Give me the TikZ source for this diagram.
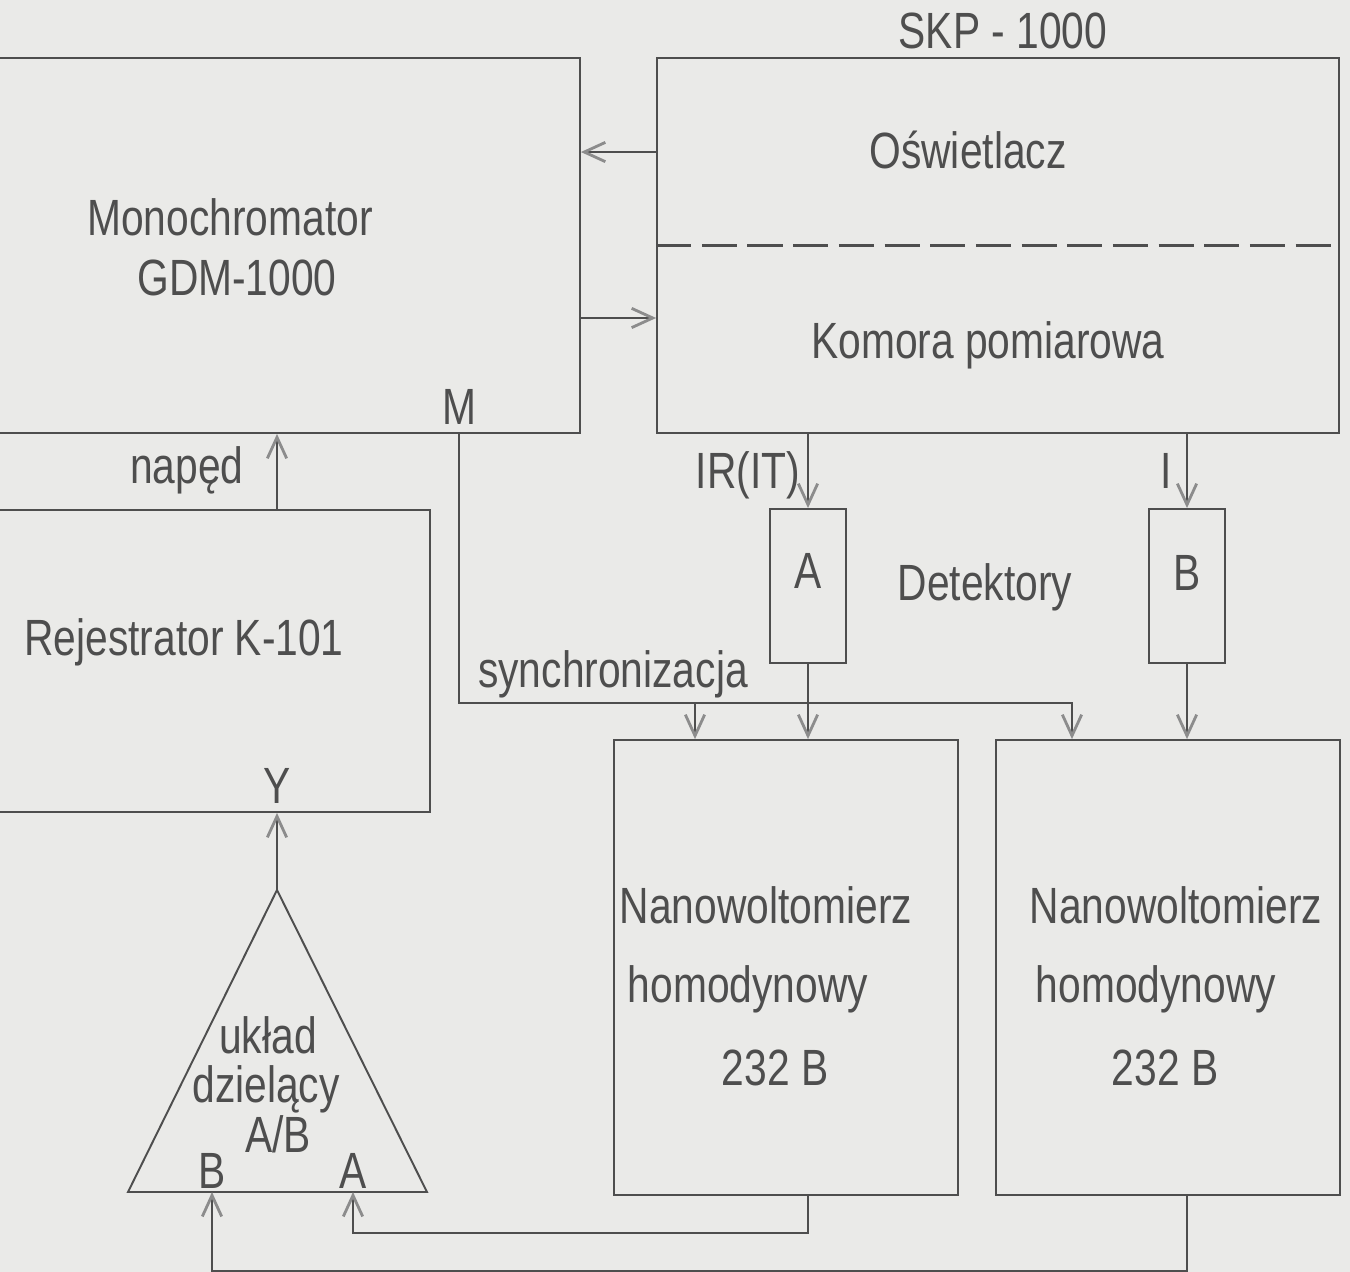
\documentclass[tikz,border=0pt]{standalone}
\usepackage{fontspec}
\newfontfamily\szablon{Liberation Sans}[FakeStretch=0.8]
\usetikzlibrary{arrows.meta}

\definecolor{papier}{RGB}{234,234,232}
\definecolor{tusz}{RGB}{78,78,78}
\definecolor{grot}{RGB}{140,140,140}

\tikzset{
	blok/.style={draw=tusz, line width=1.1pt, rectangle, inner sep=0pt},
	linia/.style={draw=tusz, line width=1.1pt},
	strz/.style={linia, -{Straight Barb[length=12pt,width=11pt,line width=1.6pt,color=grot]}},
	napis/.style={anchor=base, inner sep=0pt, text=tusz, font={\szablon\fontsize{29}{34}\selectfont}}
}

\begin{document}
\begin{tikzpicture}[x=0.02cm, y=-0.02cm]
\useasboundingbox[fill=papier] (0,0) rectangle (1350,1272);

% Bloques
	\node[blok, minimum width=14cm, minimum height=7.5cm] (mono) at (230,245.5) {};
	\node[blok, minimum width=13.64cm, minimum height=7.5cm] (skp) at (998,245.5) {};
	\draw[linia, line width=1.4pt, dash pattern=on 20pt off 6pt] (skp.west) -- (skp.east);
	\node[blok, minimum width=9.84cm, minimum height=6.04cm] (rej) at (184,661) {};
	\foreach \d/\x in {A/808, B/1187}
		\node[blok, minimum width=1.52cm, minimum height=3.08cm] (det\d) at (\x,586) {};
	\foreach \n/\x in {1/786, 2/1168}
		\node[blok, minimum width=6.88cm, minimum height=9.1cm] (nano\n) at (\x,967.5) {};

% Uklad dzielacy
	\coordinate (dzT) at (277,890);
	\coordinate (dzB) at (212,1192);
	\coordinate (dzA) at (353,1192);
	\draw[linia] (dzT) -- (427,1192) -- (128,1192) -- cycle;

% Napisy
	\node[napis] (tskp) at (1003,48) {SKP - 1000};
	\node[napis] (tosw) at (968,168) {Oświetlacz};
	\node[napis] (tkom) at (988,358) {Komora pomiarowa};
	\node[napis] (tmono) at (230,235) {Monochromator};
	\node[napis] (tgdm) at (237,295) {GDM-1000};
	\node[napis] (tM) at (459,424) {M};
	\node[napis] (tnap) at (187,483) {napęd};
	\node[napis] (trej) at (184,655) {Rejestrator K-101};
	\node[napis] (tY) at (277,803) {Y};
	\node[napis] (tsyn) at (613,687) {synchronizacja};
	\node[napis] (tIR) at (748,488) {IR(IT)};
	\node[napis] (tI) at (1166,488) {I};
	\node[napis] (tdet) at (985,600) {Detektory};
	\node[napis] (tdA) at (808,588) {A};
	\node[napis] (tdB) at (1187,590) {B};
	\foreach \n/\a/\b/\c in {1/766/748/775, 2/1176/1156/1165} {
		\node[napis] (tnano\n) at (\a,923) {Nanowoltomierz};
		\node[napis] (thom\n) at (\b,1002) {homodynowy};
		\node[napis] (t232\n) at (\c,1085) {232 B};
	}
	\node[napis] (tukl) at (268,1053) {układ};
	\node[napis] (tdzi) at (266,1102) {dzielący};
	\node[napis] (tAB) at (278,1152) {A/B};
	\node[napis] (twB) at (212,1188) {B};
	\node[napis] (twA) at (353,1188) {A};

% Polaczenia
	\draw[strz] ([yshift=1.87cm]skp.west) -- ([yshift=1.87cm]mono.east);
	\draw[strz] ([yshift=-1.45cm]mono.east) -- ([yshift=-1.45cm]skp.west);
	\draw[strz] (rej.north -| dzT) -- (mono.south -| dzT);
	\draw[strz] (dzT) -- (rej.south -| dzT);
	\coordinate (syn) at (1072,703);
	\coordinate (synA) at (695,703);
	\draw[strz] (mono.south -| tM) |- (syn) -- (nano2.north -| syn);
	\draw[strz] (synA) -- (nano1.north -| synA);
	\draw[strz] (skp.south -| detA) -- (detA.north);
	\draw[strz] (skp.south -| detB) -- (detB.north);
	\draw[strz] (detA.south) -- (nano1.north -| detA);
	\draw[strz] (detB.south) -- (nano2.north -| detB);
	\draw[strz] (nano1.south -| detA) -- ++(0,37) -| (dzA);
	\draw[strz] (nano2.south -| detB) -- ++(0,75) -| (dzB);
\end{tikzpicture}
\end{document}
